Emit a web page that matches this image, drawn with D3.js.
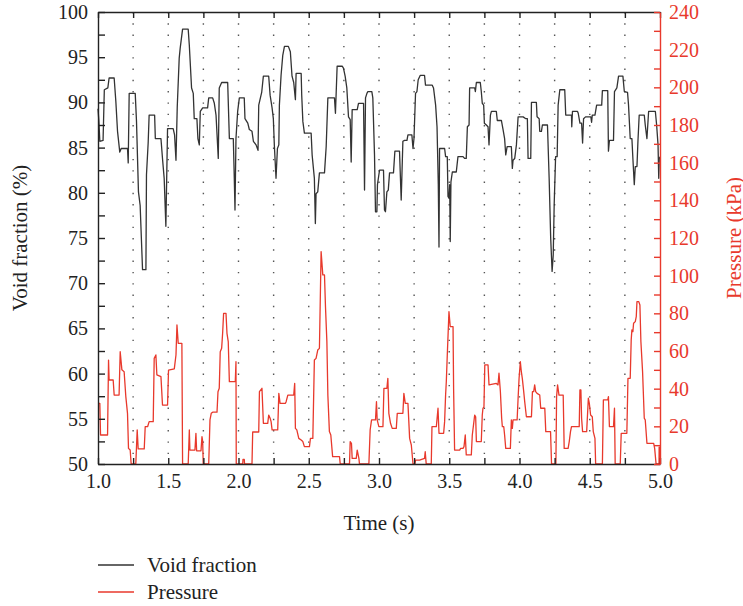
<!DOCTYPE html>
<html>
<head>
<meta charset="utf-8">
<script src="https://cdn.jsdelivr.net/npm/d3@7"></script>
<style>
  html, body { margin: 0; background: #fff; overflow: hidden; }
  svg { display: block; }
  text { font-family: "Liberation Serif", "Times New Roman", serif; }
</style>
<script>
// Void fraction (%) against time (s)
const voidFraction = [
  [1.000, 89.3], [1.006, 88.0], [1.013, 85.7], [1.036, 85.8], [1.045, 91.4], [1.070, 91.6], [1.079, 92.7],
  [1.115, 92.7], [1.127, 90.1], [1.139, 86.8], [1.155, 84.5], [1.165, 84.9], [1.210, 84.9], [1.215, 83.3],
  [1.222, 91.0], [1.265, 91.0], [1.274, 87.9], [1.288, 80.1], [1.300, 78.6], [1.317, 71.5], [1.341, 71.5],
  [1.345, 82.0], [1.357, 85.5], [1.364, 88.6], [1.403, 88.6], [1.408, 86.0], [1.448, 86.0], [1.459, 83.8],
  [1.471, 81.6], [1.483, 76.3], [1.495, 87.1], [1.535, 87.1], [1.545, 86.4], [1.555, 83.6], [1.564, 89.5],
  [1.578, 94.9], [1.585, 96.0], [1.602, 98.1], [1.642, 98.1], [1.650, 96.3], [1.666, 91.6], [1.678, 91.0],
  [1.685, 88.2], [1.704, 88.2], [1.711, 86.0], [1.721, 85.3], [1.728, 89.0], [1.745, 89.4], [1.780, 89.4],
  [1.788, 90.5], [1.816, 90.5], [1.828, 89.9], [1.840, 88.6], [1.856, 83.8], [1.863, 91.6], [1.880, 92.2],
  [1.923, 92.2], [1.935, 86.0], [1.963, 86.0], [1.970, 81.6], [1.975, 78.1], [1.982, 86.0], [1.994, 89.0],
  [2.006, 90.5], [2.041, 90.5], [2.046, 88.2], [2.066, 87.7], [2.077, 87.0], [2.096, 86.8], [2.106, 85.7],
  [2.125, 85.3], [2.139, 84.7], [2.144, 89.7], [2.153, 90.3], [2.165, 91.1], [2.177, 92.9], [2.215, 92.9],
  [2.225, 90.8], [2.239, 89.4], [2.248, 88.2], [2.255, 85.3], [2.267, 81.6], [2.277, 84.9], [2.287, 85.3],
  [2.291, 89.7], [2.303, 93.0], [2.315, 95.2], [2.327, 96.2], [2.355, 96.2], [2.369, 95.6], [2.381, 92.9],
  [2.393, 92.2], [2.405, 90.3], [2.410, 93.2], [2.446, 93.2], [2.450, 90.8], [2.458, 87.9], [2.469, 86.6],
  [2.517, 86.6], [2.524, 84.2], [2.540, 81.6], [2.547, 76.6], [2.552, 79.9], [2.564, 80.1], [2.576, 82.2],
  [2.612, 82.2], [2.624, 85.1], [2.636, 90.5], [2.683, 90.5], [2.690, 88.8], [2.702, 94.0], [2.738, 94.0],
  [2.747, 93.8], [2.759, 92.9], [2.771, 91.6], [2.783, 88.4], [2.795, 88.1], [2.802, 83.4], [2.809, 89.2],
  [2.845, 89.2], [2.854, 89.9], [2.890, 89.9], [2.897, 80.3], [2.904, 90.5], [2.914, 91.0], [2.921, 91.2],
  [2.949, 91.2], [2.956, 90.5], [2.968, 84.2], [2.975, 77.9], [2.985, 77.9], [2.989, 80.9], [2.999, 82.0],
  [3.004, 82.5], [3.032, 82.5], [3.039, 78.1], [3.046, 77.9], [3.056, 80.1], [3.066, 80.3], [3.075, 82.2],
  [3.103, 82.2], [3.113, 84.6], [3.146, 84.6], [3.158, 79.2], [3.170, 85.7], [3.182, 85.8], [3.199, 85.8],
  [3.206, 86.4], [3.234, 86.4], [3.242, 84.9], [3.249, 86.0], [3.260, 91.0], [3.270, 91.2], [3.279, 92.5],
  [3.294, 93.0], [3.324, 93.0], [3.331, 91.9], [3.379, 91.9], [3.388, 91.6], [3.403, 89.7], [3.413, 87.3],
  [3.422, 80.9], [3.427, 74.0], [3.431, 84.9], [3.467, 84.9], [3.474, 84.0], [3.486, 84.0], [3.491, 79.6],
  [3.498, 79.4], [3.503, 80.9], [3.507, 74.6], [3.512, 81.2], [3.522, 82.3], [3.550, 82.3], [3.562, 84.0],
  [3.598, 84.0], [3.609, 83.8], [3.621, 83.8], [3.629, 87.3], [3.641, 87.5], [3.645, 91.6], [3.681, 91.6],
  [3.686, 91.2], [3.693, 92.2], [3.721, 92.2], [3.728, 91.2], [3.735, 89.9], [3.745, 89.7], [3.750, 87.7],
  [3.764, 87.5], [3.776, 87.3], [3.783, 85.3], [3.793, 88.6], [3.800, 89.0], [3.835, 89.0], [3.842, 88.0],
  [3.871, 88.0], [3.883, 87.0], [3.894, 86.0], [3.902, 84.2], [3.912, 85.1], [3.942, 85.1], [3.949, 82.7],
  [3.954, 83.6], [3.966, 83.8], [3.978, 85.3], [3.990, 88.4], [4.026, 88.4], [4.045, 88.2], [4.056, 88.2],
  [4.061, 83.8], [4.080, 83.8], [4.085, 90.0], [4.120, 90.0], [4.125, 88.4], [4.140, 88.2], [4.144, 86.8],
  [4.156, 86.8], [4.163, 87.5], [4.199, 87.5], [4.211, 81.6], [4.222, 75.0], [4.232, 71.3], [4.240, 73.1],
  [4.247, 78.8], [4.257, 84.0], [4.268, 84.0], [4.275, 89.7], [4.287, 91.4], [4.322, 91.4], [4.329, 88.6],
  [4.370, 88.6], [4.372, 87.3], [4.377, 89.0], [4.413, 89.0], [4.418, 88.8], [4.430, 87.7], [4.442, 87.7],
  [4.449, 85.5], [4.456, 88.2], [4.470, 88.4], [4.508, 88.4], [4.513, 87.8], [4.518, 88.6], [4.537, 88.6],
  [4.549, 89.7], [4.585, 89.7], [4.590, 91.3], [4.628, 91.3], [4.633, 84.6], [4.640, 85.8], [4.669, 85.8],
  [4.676, 91.2], [4.693, 91.6], [4.705, 92.9], [4.736, 92.9], [4.746, 91.2], [4.769, 91.1], [4.776, 89.7],
  [4.788, 86.0], [4.800, 86.0], [4.807, 83.8], [4.817, 80.9], [4.824, 82.9], [4.836, 82.9], [4.843, 85.7],
  [4.852, 88.6], [4.888, 88.6], [4.895, 87.5], [4.907, 86.0], [4.919, 89.0], [4.967, 89.0], [4.976, 87.5],
  [4.986, 85.3], [4.991, 81.6], [4.995, 83.8], [5.000, 84.0]
];

// Pressure (kPa) against time (s)
const pressure = [
  [1.000, 32.2], [1.013, 32.2], [1.018, 15.4], [1.068, 15.4], [1.075, 55.2], [1.079, 44.6], [1.108, 44.6],
  [1.115, 36.6], [1.150, 36.6], [1.158, 59.6], [1.170, 50.0], [1.186, 49.0], [1.198, 35.8], [1.210, 26.9],
  [1.217, 8.3], [1.229, 7.4], [1.236, 0], [1.269, 0], [1.279, 18.1], [1.286, 8.0], [1.329, 8.0],
  [1.336, 19.8], [1.353, 19.8], [1.364, 22.5], [1.393, 22.5], [1.400, 56.1], [1.412, 57.9], [1.419, 47.3],
  [1.448, 46.4], [1.459, 31.3], [1.495, 31.3], [1.502, 49.9], [1.543, 50.5], [1.555, 57.9], [1.562, 73.8],
  [1.571, 64.1], [1.597, 64.1], [1.602, 0], [1.642, 0], [1.650, 18.1], [1.654, 7.4], [1.690, 7.4],
  [1.697, 16.3], [1.702, 7.0], [1.733, 7.0], [1.740, 14.5], [1.745, 12.0], [1.749, 0], [1.788, 0],
  [1.797, 23.4], [1.806, 26.9], [1.816, 27.5], [1.847, 27.5], [1.854, 38.4], [1.863, 40.2], [1.870, 59.6],
  [1.880, 61.4], [1.887, 69.4], [1.894, 80.0], [1.911, 80.0], [1.918, 69.4], [1.927, 65.0], [1.935, 43.7],
  [1.977, 43.7], [1.982, 54.3], [1.984, 0], [2.030, 0], [2.032, 2.5], [2.041, 2.5], [2.043, 0],
  [2.096, 0], [2.101, 17.0], [2.144, 17.0], [2.149, 38.4], [2.167, 40.2], [2.177, 21.6], [2.208, 21.6],
  [2.215, 26.0], [2.225, 24.3], [2.232, 22.5], [2.239, 18.1], [2.279, 18.1], [2.287, 37.5], [2.296, 32.2],
  [2.334, 32.2], [2.339, 33.1], [2.351, 36.6], [2.393, 36.6], [2.400, 42.8], [2.405, 18.9], [2.415, 18.1],
  [2.429, 13.6], [2.446, 12.7], [2.458, 11.9], [2.469, 9.2], [2.505, 9.2], [2.512, 13.6], [2.529, 13.6],
  [2.540, 55.2], [2.552, 56.1], [2.564, 60.5], [2.576, 61.4], [2.588, 112.8], [2.600, 100.4], [2.612, 100.4],
  [2.619, 83.6], [2.629, 65.0], [2.636, 36.6], [2.647, 17.2], [2.657, 15.4], [2.670, 3.9], [2.719, 3.9],
  [2.724, 0], [2.790, 0], [2.795, 11.9], [2.804, 11.0], [2.809, 3.0], [2.838, 3.0], [2.845, 7.4],
  [2.857, 3.0], [2.861, 0], [2.928, 0], [2.937, 18.1], [2.947, 23.4], [2.975, 23.4], [2.982, 33.1],
  [2.987, 23.4], [2.999, 19.8], [3.028, 19.8], [3.035, 40.2], [3.056, 40.2], [3.063, 45.5], [3.070, 26.9],
  [3.082, 21.6], [3.094, 18.9], [3.123, 18.9], [3.130, 26.9], [3.170, 26.9], [3.177, 37.5], [3.187, 32.2],
  [3.206, 32.2], [3.218, 13.6], [3.230, 10.1], [3.242, 0], [3.255, 0], [3.260, 2.1], [3.289, 2.1],
  [3.324, 3.0], [3.329, 6.5], [3.336, 0], [3.372, 0], [3.377, 19.8], [3.408, 19.8], [3.420, 29.6],
  [3.427, 16.3], [3.460, 16.3], [3.467, 22.5], [3.474, 36.6], [3.479, 43.7], [3.486, 57.9], [3.498, 80.9],
  [3.507, 72.9], [3.527, 72.9], [3.531, 40.0], [3.538, 7.4], [3.574, 7.4], [3.581, 8.3], [3.598, 8.3],
  [3.605, 9.2], [3.614, 15.4], [3.621, 4.8], [3.657, 4.8], [3.664, 15.4], [3.674, 21.6], [3.681, 26.0],
  [3.688, 25.1], [3.693, 11.9], [3.728, 11.9], [3.735, 26.0], [3.740, 29.6], [3.747, 30.4], [3.753, 52.6],
  [3.776, 52.6], [3.783, 42.0], [3.835, 42.8], [3.847, 42.0], [3.854, 48.2], [3.864, 38.4], [3.873, 24.3],
  [3.878, 19.8], [3.888, 19.8], [3.894, 15.4], [3.902, 8.3], [3.935, 8.3], [3.942, 23.4], [3.949, 18.9],
  [3.954, 23.4], [3.983, 23.4], [3.990, 34.9], [3.997, 45.5], [4.006, 54.3], [4.013, 49.0], [4.020, 45.5],
  [4.030, 38.4], [4.037, 33.1], [4.049, 25.1], [4.085, 25.1], [4.092, 38.4], [4.101, 38.4], [4.108, 42.0],
  [4.115, 38.4], [4.125, 37.5], [4.144, 36.6], [4.151, 29.6], [4.180, 29.6], [4.187, 17.2], [4.221, 17.2],
  [4.228, 0], [4.259, 0], [4.264, 35.8], [4.271, 42.0], [4.281, 36.6], [4.311, 36.6], [4.318, 8.3],
  [4.346, 8.3], [4.354, 11.9], [4.363, 17.2], [4.370, 19.8], [4.425, 19.8], [4.430, 39.3], [4.437, 39.3],
  [4.442, 24.3], [4.449, 17.2], [4.478, 17.2], [4.490, 34.9], [4.497, 32.2], [4.506, 26.0], [4.518, 25.1],
  [4.525, 17.2], [4.537, 13.6], [4.542, 0], [4.590, 0], [4.597, 34.0], [4.628, 34.0], [4.633, 35.8],
  [4.640, 19.8], [4.669, 19.8], [4.676, 29.6], [4.681, 0], [4.717, 0], [4.724, 16.3], [4.764, 16.3],
  [4.772, 45.5], [4.788, 45.5], [4.795, 65.9], [4.800, 71.2], [4.807, 70.3], [4.812, 74.7], [4.824, 75.6],
  [4.831, 78.2], [4.836, 86.2], [4.849, 86.2], [4.857, 84.4], [4.864, 65.0], [4.876, 49.0], [4.888, 24.3],
  [4.895, 23.4], [4.907, 11.0], [4.955, 11.0], [4.962, 8.3], [4.972, 0], [4.993, 0], [4.994, 9.0],
  [4.997, 9.0], [4.998, 0], [5.000, 0]
];

// Tick values
const timeTicks = d3.range(1, 5.001, 0.25);
const voidTicks = d3.range(50, 100.001, 2.5);
const pressureTicks = d3.range(0, 240.001, 10);

const seriesNames = ["Void fraction", "Pressure"];

// Dimensions
const width = 743;
const height = 606;
const margin = { top: 12, right: 83, bottom: 142, left: 98 };
const innerWidth = width - margin.left - margin.right;
const innerHeight = height - margin.top - margin.bottom;

const black = "#333333";
const red = "#e8392c";

function drawChart() {
  const svg = d3.select("#chart")
    .append("svg")
    .attr("width", width)
    .attr("height", height);

  const gRoot = svg.append("g")
    .attr("transform", `translate(${margin.left}, ${margin.top})`);

  // Scales
  const xScale = d3.scaleLinear().domain([1, 5]).range([0, innerWidth]);
  const yScale = d3.scaleLinear().domain([50, 100]).range([innerHeight, 0]);
  const y2Scale = d3.scaleLinear().domain([0, 240]).range([innerHeight, 0]);

  // Dotted vertical grid
  gRoot.append("g")
    .attr("class", "grid")
    .selectAll("line")
    .data(timeTicks.slice(1, -1))
    .join("line")
    .attr("x1", d => xScale(d))
    .attr("x2", d => xScale(d))
    .attr("y1", 0)
    .attr("y2", innerHeight)
    .attr("stroke", "#555")
    .attr("stroke-width", 1.4)
    .attr("stroke-dasharray", "1.4,9.9");

  // Lines
  const voidLine = d3.line()
    .x(d => xScale(d[0]))
    .y(d => yScale(d[1]));

  const pressureLine = d3.line()
    .x(d => xScale(d[0]))
    .y(d => y2Scale(d[1]));

  gRoot.append("path")
    .datum(voidFraction)
    .attr("fill", "none")
    .attr("stroke", black)
    .attr("stroke-width", 1.3)
    .attr("stroke-linejoin", "round")
    .attr("d", voidLine);

  gRoot.append("path")
    .datum(pressure)
    .attr("fill", "none")
    .attr("stroke", red)
    .attr("stroke-width", 1.3)
    .attr("stroke-linejoin", "round")
    .attr("d", pressureLine);

  // Axes (ticks point inward, minor ticks have no label)
  const fmtX = d => (Math.abs(d * 2 - Math.round(d * 2)) < 1e-6 ? d3.format(".1f")(d) : "");
  const fmtY = d => (d % 5 === 0 ? d : "");
  const fmtY2 = d => (d % 20 === 0 ? d : "");

  const gXAxis = gRoot.append("g")
    .attr("transform", `translate(0, ${innerHeight})`)
    .call(d3.axisBottom(xScale).tickValues(timeTicks).tickFormat(fmtX).tickSizeInner(-6).tickSizeOuter(0).tickPadding(10));

  const gXTop = gRoot.append("g")
    .call(d3.axisTop(xScale).tickValues(timeTicks).tickFormat("").tickSizeInner(-6).tickSizeOuter(0));

  const gYAxis = gRoot.append("g")
    .call(d3.axisLeft(yScale).tickValues(voidTicks).tickFormat(fmtY).tickSizeInner(-7).tickSizeOuter(0).tickPadding(10));

  const gY2Axis = gRoot.append("g")
    .attr("transform", `translate(${innerWidth}, 0)`)
    .call(d3.axisRight(y2Scale).tickValues(pressureTicks).tickFormat(fmtY2).tickSizeInner(-6).tickSizeOuter(0).tickPadding(9));

  // drop the empty labels of minor ticks
  [gXAxis, gXTop, gYAxis, gY2Axis].forEach(g => {
    g.selectAll("text").filter(function () { return this.textContent === ""; }).remove();
  });

  [gXAxis, gXTop, gYAxis].forEach(g => {
    g.selectAll("path, line").attr("stroke", "#222").attr("stroke-width", 1.4);
    g.selectAll("text").attr("fill", "#222").style("font-size", "20px")
      .style("font-family", '"Liberation Serif", serif');
  });
  gY2Axis.selectAll("path, line").attr("stroke", red).attr("stroke-width", 1.4);
  gY2Axis.selectAll("text").attr("fill", red).style("font-size", "20px")
    .style("font-family", '"Liberation Serif", serif');

  // Axis titles
  svg.append("text")
    .attr("x", margin.left + innerWidth / 2)
    .attr("y", 530)
    .attr("text-anchor", "middle")
    .attr("font-size", "21px")
    .attr("fill", "#222")
    .text("Time (s)");

  svg.append("text")
    .attr("transform", `translate(27, ${margin.top + innerHeight / 2}) rotate(-90)`)
    .attr("text-anchor", "middle")
    .attr("font-size", "21px")
    .attr("fill", "#222")
    .text("Void fraction (%)");

  svg.append("text")
    .attr("transform", `translate(741, ${margin.top + innerHeight / 2}) rotate(-90)`)
    .attr("text-anchor", "middle")
    .attr("font-size", "21px")
    .attr("fill", red)
    .text("Pressure (kPa)");

  // Legend
  const legend = svg.append("g")
    .attr("transform", "translate(98, 565)")
    .selectAll("g")
    .data(seriesNames)
    .join("g")
    .attr("transform", (d, i) => `translate(0, ${i * 27})`);

  legend.append("line")
    .attr("x1", 0)
    .attr("x2", 36)
    .attr("stroke", (d, i) => (i === 0 ? black : red))
    .attr("stroke-width", 1.3);

  legend.append("text")
    .attr("x", 49)
    .attr("dy", "0.35em")
    .attr("font-size", "21px")
    .attr("fill", "#222")
    .text(d => d);
}

document.addEventListener("DOMContentLoaded", drawChart);
</script>
</head>
<body>
<div id="chart"></div>
</body>
</html>
